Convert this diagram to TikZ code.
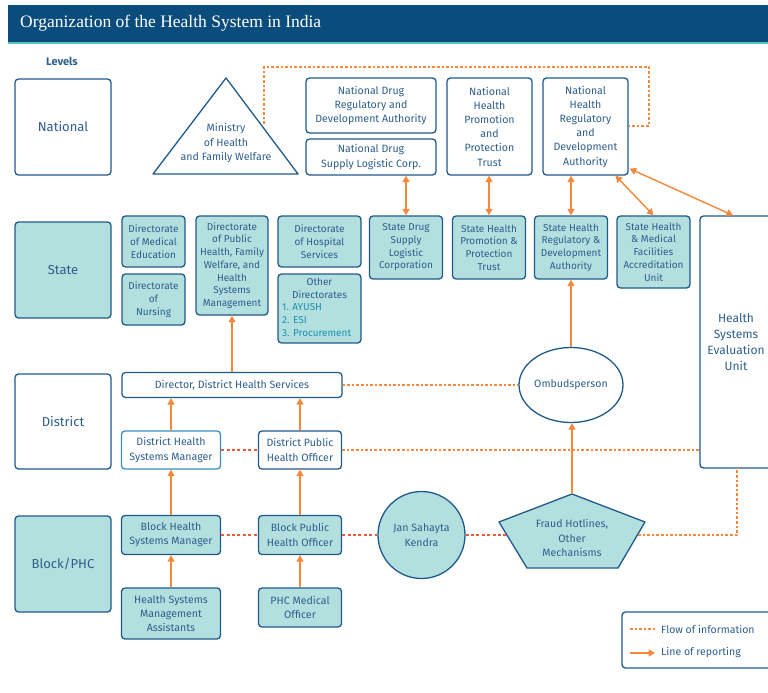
\documentclass[tikz,border=0pt]{standalone}
\usepackage{fontspec}
\setmainfont{Fira Sans}
\newfontfamily\titlefont{Liberation Serif}
\usetikzlibrary{arrows.meta,calc,shapes.geometric}

\definecolor{barblue}{HTML}{0A4C7C}
\definecolor{barline}{HTML}{5CC3C3}
\definecolor{bordc}{HTML}{1F5A8C}
\definecolor{lightbord}{HTML}{3B8FC0}
\definecolor{txtc}{HTML}{2E5E8C}
\definecolor{tealf}{HTML}{B3DFDF}
\definecolor{orng}{HTML}{F5883A}
\definecolor{redd}{HTML}{EE5A3A}
\definecolor{listc}{HTML}{1B8FAE}

\begin{document}
\begin{tikzpicture}[x=1pt,y=-1pt,
  bigtext/.style={font=\fontsize{10.6}{14.2}\selectfont},
  smalltext/.style={font=\fontsize{10}{12.7}\selectfont},
  box/.style={draw=bordc, line width=1.3pt, rounded corners=3.5pt, align=center,
    inner sep=0pt, text=txtc},
  wbox/.style={box, fill=white, bigtext},
  tbox/.style={box, fill=tealf, bigtext},
  sbox/.style={box, fill=tealf, smalltext},
  levelbox/.style={box, font=\fontsize{13}{16}\selectfont, minimum width=96pt, minimum height=96pt},
  report/.style={draw=orng, line width=1.4pt, -{Triangle[width=7pt,length=6.5pt]}},
  report2/.style={draw=orng, line width=1.4pt, {Triangle[width=7pt,length=6.5pt]}-{Triangle[width=7pt,length=6.5pt]}},
  info/.style={draw=orng, line width=1.2pt, dash pattern=on 2.6pt off 2pt},
  peer/.style={draw=redd, line width=1.2pt, dash pattern=on 3pt off 2.4pt},
]
\useasboundingbox (0,0) rectangle (768,693);
\clip (0,0) rectangle (768,693);

% title bar
\fill[barblue] (8,5) rectangle (770,42);
\fill[barline] (8,42) rectangle (770,44);
\node[anchor=west, text=white, font=\titlefont\fontsize{17.5}{20}\selectfont, inner sep=0pt] (title) at (20,23.5) {Organization of the Health System in India};

\node[text=txtc, font=\fontsize{11}{13}\bfseries\selectfont, inner sep=0pt] (levels) at (62,61) {Levels};

% level column
\node[levelbox, fill=white] (lvN) at (63,127) {National};
\node[levelbox, fill=tealf] (lvS) at (63,270) {State};
\node[levelbox, fill=white, minimum height=95pt] (lvD) at (63,421.5) {District};
\node[levelbox, fill=tealf] (lvB) at (63,564) {Block/PHC};

% national level
\draw[bordc, line width=1.3pt, line join=round, fill=white] (226,78) -- (298,174) -- (153,174) -- cycle;
\node[bigtext, text=txtc, align=center, inner sep=0pt] (mohfw) at (226,143) {Ministry\\of Health\\and Family Welfare};
\coordinate (mohfwR) at (264,124);

\node[wbox, minimum width=130pt, minimum height=55pt] (ndrda) at (371,105.5) {National Drug\\Regulatory and\\Development Authority};
\node[wbox, minimum width=130pt, minimum height=36pt] (ndslc) at (371,157) {National Drug\\Supply Logistic Corp.};
\node[wbox, minimum width=85pt, minimum height=97pt] (nhppt) at (489.5,126.5) {National\\Health\\Promotion\\and\\Protection\\Trust};
\node[wbox, minimum width=85pt, minimum height=97pt] (nhrda) at (585.5,126.5) {National\\Health\\Regulatory\\and\\Development\\Authority};

% state level
\node[sbox, minimum width=63pt, minimum height=51pt] (dme) at (153.5,241.5) {Directorate\\of Medical\\Education};
\node[sbox, minimum width=63pt, minimum height=51pt] (dnur) at (153.5,299.5) {Directorate\\of\\Nursing};
\node[sbox, minimum width=72pt, minimum height=99pt] (dph) at (232,265.5) {Directorate\\of Public\\Health, Family\\Welfare, and\\Health\\Systems\\Management};
\node[sbox, minimum width=83pt, minimum height=51pt] (dhs) at (319.5,241.5) {Directorate\\of Hospital\\Services};
\node[sbox, minimum width=83pt, minimum height=69pt] (oth) at (319.5,308.5) {};
\node[smalltext, text=txtc, align=center, inner sep=0pt, anchor=north] (othhead) at (319.5,278) {Other\\Directorates};
\node[smalltext, text=listc, align=left, inner sep=0pt, anchor=north west] (othlist) at (282,303.5) {1. AYUSH\\2. ESI\\3. Procurement};
\node[sbox, minimum width=73pt, minimum height=63pt] (sdslc) at (406,247.5) {State Drug\\Supply\\Logistic\\Corporation};
\node[sbox, minimum width=73pt, minimum height=63pt] (shppt) at (489,247.5) {State Health\\Promotion \&\\Protection\\Trust};
\node[sbox, minimum width=73pt, minimum height=63pt] (shrda) at (571,247.5) {State Health\\Regulatory \&\\Development\\Authority};
\node[sbox, minimum width=73pt, minimum height=72pt] (shmfau) at (653.5,252) {State Health\\\& Medical\\Facilities\\Accreditation\\Unit};
\node[box, fill=white, font=\fontsize{12}{16}\selectfont, minimum width=72pt, minimum height=252pt] (hseu) at (736,342) {Health\\Systems\\Evaluation\\Unit};

% district level
\node[wbox, minimum width=220pt, minimum height=25pt] (dir) at (232,385) {Director, District Health Services};
\node[wbox, draw=lightbord, minimum width=99pt, minimum height=38pt] (dhsm) at (171,450) {District Health\\Systems Manager};
\node[wbox, minimum width=83pt, minimum height=38pt] (dpho) at (300,450) {District Public\\Health Officer};
\node[draw=bordc, line width=1.3pt, fill=white, ellipse, bigtext, text=txtc, inner sep=0pt, minimum width=97pt, minimum height=75pt] (ombud) at (571,385) {Ombudsperson};

% block level
\node[tbox, minimum width=99pt, minimum height=39pt] (bhsm) at (171,535) {Block Health\\Systems Manager};
\node[tbox, minimum width=83pt, minimum height=39pt] (bpho) at (300,535) {Block Public\\Health Officer};
\node[tbox, minimum width=99pt, minimum height=51pt] (hsma) at (171,613.5) {Health Systems\\Management\\Assistants};
\node[tbox, minimum width=83pt, minimum height=39pt] (phcmo) at (300,607.5) {PHC Medical\\Officer};
\node[draw=bordc, line width=1.3pt, fill=tealf, circle, bigtext, text=txtc, align=center, inner sep=0pt, minimum size=87pt] (jsk) at (421.5,535) {Jan Sahayta\\Kendra};
\draw[bordc, line width=1.3pt, line join=round, fill=tealf] (572,494) -- (645,522) -- (618,568) -- (527,568) -- (499,522) -- cycle;
\node[bigtext, text=txtc, align=center, inner sep=0pt] (fraud) at (572,538) {Fraud Hotlines,\\Other\\Mechanisms};
\coordinate (fraudT) at (572,494);
\coordinate (fraudL) at (506,535);
\coordinate (fraudR) at (638,535);
\coordinate (hseuB) at (737,468);

% flow of information
\draw[info] (mohfwR) -- (264,67) -- (649,67) -- (649,126) -- (nhrda.east |- 0,126);
\draw[info] (dir.east) -- (ombud.west);
\draw[info] (dpho.east) -- (dpho.east -| hseu.west);
\draw[info] (fraudR) -- (fraudR -| hseuB) -- (hseuB);
\draw[peer] (dhsm.east) -- (dpho.west);
\draw[peer] (bhsm.east) -- (bpho.west);
\draw[peer] (bpho.east) -- (jsk.west);
\draw[peer] (jsk.east) -- (fraudL);

% lines of reporting between national and state bodies
\draw[report2] (sdslc.north) -- (sdslc.north |- ndslc.south);
\draw[report2] (shppt.north) -- (shppt.north |- nhppt.south);
\draw[report2] (shrda.north) -- (shrda.north |- nhrda.south);
\draw[report2] ($(nhrda.south)+(30,0)$) -- (shmfau.north);
\draw[report2] ($(nhrda.south east)+(1,-7)$) -- ($(hseu.north)+(-3,0)$);

% lines of reporting within districts and blocks
\draw[report] (dir.north) -- (dir.north |- dph.south);
\draw[report] (dhsm.north) -- (dhsm.north |- dir.south);
\draw[report] (dpho.north) -- (dpho.north |- dir.south);
\draw[report] (bhsm.north) -- (dhsm.south);
\draw[report] (bpho.north) -- (dpho.south);
\draw[report] (hsma.north) -- (bhsm.south);
\draw[report] (phcmo.north) -- (bpho.south);
\draw[report] (ombud.north) -- (ombud.north |- shrda.south);
\draw[report] (fraudT) -- (fraudT |- ombud.south);

% legend
\node[box, fill=white, minimum width=158pt, minimum height=56pt] (legend) at (701,640) {};
\coordinate (lgA1) at (630,629);
\coordinate (lgA2) at (655,629);
\coordinate (lgB1) at (630,653);
\coordinate (lgB2) at (655,653);
\draw[info] (lgA1) -- (lgA2);
\draw[report] (lgB1) -- (lgB2);
\node[anchor=west, text=txtc, font=\fontsize{10.5}{12}\selectfont, inner sep=0pt] (lgtA) at (661,629) {Flow of information};
\node[anchor=west, text=txtc, font=\fontsize{10.5}{12}\selectfont, inner sep=0pt] (lgtB) at (661,653) {Line of reporting};
\end{tikzpicture}
\end{document}
